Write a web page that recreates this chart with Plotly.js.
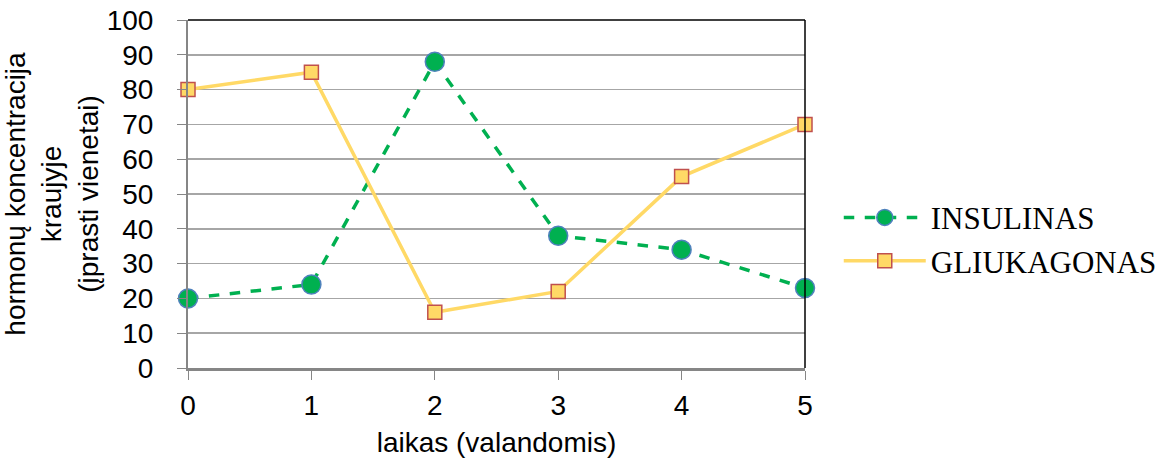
<!DOCTYPE html>
<html>
<head>
<meta charset="utf-8">
<script src="https://cdn.plot.ly/plotly-3.0.1.min.js"></script>
<style>html,body{margin:0;padding:0;background:#fff;}#chart{width:1173px;height:461px;}</style>
</head>
<body>
<div id="chart"></div>
<script>
const hours = [0, 1, 2, 3, 4, 5];
const insulinas = [20, 24, 88, 38, 34, 23];
const gliukagonas = [80, 85, 16, 22, 55, 70];
const seriesNames = ["INSULINAS", "GLIUKAGONAS"];
const xTitle = "laikas (valandomis)";
const yTitle = "hormonų koncentracija<br>kraujyje<br>(įprasti vienetai)";

const traces = [
  {
    x: hours, y: insulinas, name: seriesNames[0], type: "scatter", mode: "lines+markers",
    line: {color: "#00B050", width: 3.5, dash: "dash"},
    marker: {symbol: "circle", size: 19, color: "#00B050", line: {color: "#4F81BD", width: 1.5}},
    cliponaxis: false
  },
  {
    x: hours, y: gliukagonas, name: seriesNames[1], type: "scatter", mode: "lines+markers",
    line: {color: "#FFD966", width: 3.5},
    marker: {symbol: "square", size: 14, color: "#FFD966", line: {color: "#C0504D", width: 1.5}},
    cliponaxis: false
  }
];

const layout = {
  width: 1173, height: 461,
  margin: {l: 188, r: 367, t: 20, b: 93},
  paper_bgcolor: "#fff", plot_bgcolor: "#fff",
  font: {family: "Liberation Sans, Arial, sans-serif", size: 28, color: "#000"},
  showlegend: true,
  legend: {
    x: 1.053, y: 0.37, xanchor: "left", yanchor: "middle",
    font: {family: "Liberation Serif, Times New Roman, serif", size: 31, color: "#000"},
    tracegroupgap: 0, itemwidth: 82, bgcolor: "rgba(0,0,0,0)"
  },
  xaxis: {
    range: [0, 5], tickvals: hours, ticktext: hours.map(String),
    showgrid: false, zeroline: false,
    showline: true, linecolor: "#868686", linewidth: 3,
    ticks: "outside", ticklen: 9, tickcolor: "#868686", tickwidth: 1,
    ticklabelstandoff: 1,
    tickfont: {size: 28}, title: {text: xTitle, font: {size: 28}, standoff: 13}
  },
  yaxis: {
    range: [0, 100], dtick: 10,
    showgrid: true, gridcolor: "#A6A6A6", gridwidth: 1.5, zeroline: false,
    showline: true, linecolor: "#868686", linewidth: 2,
    ticks: "outside", ticklen: 9, tickcolor: "#868686", tickwidth: 1,
    ticklabelstandoff: 18,
    tickfont: {size: 28}, title: {text: yTitle, font: {size: 28}, standoff: 8}
  },
  shapes: [
    {type: "line", xref: "paper", yref: "paper", x0: 0, x1: 1, y0: 1, y1: 1, line: {color: "#000", width: 1.5}},
    {type: "line", xref: "paper", yref: "paper", x0: 1, x1: 1, y0: 0, y1: 1, line: {color: "#000", width: 1.5}}
  ]
};

Plotly.newPlot("chart", traces, layout, {displayModeBar: false, staticPlot: true});
</script>
</body>
</html>
